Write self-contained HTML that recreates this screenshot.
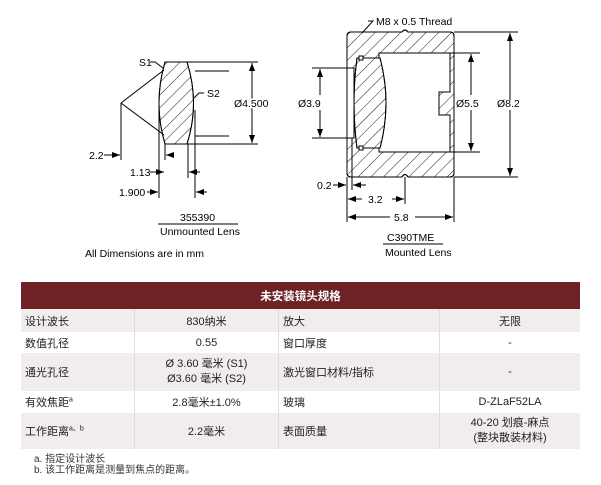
<!DOCTYPE html>
<html><head><meta charset="utf-8"><style>
body{margin:0;background:#fff;width:601px;height:485px;overflow:hidden;position:relative;font-family:"Liberation Sans","Noto Sans CJK SC",sans-serif}
svg{position:absolute;left:0;top:0}
table{position:absolute;left:21px;top:282px;width:559px;border-collapse:collapse;font-size:11px;color:#222}
td{padding:0 4px;border-left:1px solid #ddd}
td:first-child{border-left:none}
th{background:#6e2226;color:#fff;height:25px;font-size:11.5px;font-weight:bold}
tr.a td{background:#f2eded}
.c{text-align:center}
.fn{position:absolute;left:34px;top:454px;font-size:10px;line-height:11px;color:#333}
</style></head><body>
<svg width="601" height="280" viewBox="0 0 601 280" font-family="Liberation Sans, sans-serif" font-size="10.5">
<defs>
<pattern id="h" width="9" height="9" patternUnits="userSpaceOnUse" patternTransform="rotate(45)"><line x1="0" y1="0" x2="0" y2="9" stroke="#000" stroke-width="0.9"/></pattern>
<marker id="ar" markerWidth="8" markerHeight="6" refX="8" refY="3" orient="auto" markerUnits="userSpaceOnUse"><path d="M0,0L8,3L0,6z"/></marker>
</defs>
<g stroke="#000" stroke-width="1" fill="none">
<path d="M165,62 L187,62 Q200,103 187,144 L165,144 Q153,103 165,62Z" fill="url(#h)"/>
<path d="M165,62 L187,62 Q200,103 187,144 L165,144 Q153,103 165,62Z"/>
<line x1="187" y1="62" x2="258" y2="62"/><line x1="187" y1="144" x2="258" y2="144"/>
<line x1="195" y1="71" x2="229" y2="71"/><line x1="195" y1="136" x2="229" y2="136"/>
<line x1="121" y1="103" x2="164" y2="70"/><line x1="121" y1="103" x2="164" y2="135"/>
<line x1="252" y1="103" x2="252" y2="63" marker-end="url(#ar)"/><line x1="252" y1="103" x2="252" y2="143" marker-end="url(#ar)"/>
<line x1="121" y1="103" x2="121" y2="160"/>
<line x1="159" y1="110" x2="159" y2="198"/>
<line x1="165" y1="144" x2="165" y2="160"/>
<line x1="188" y1="144" x2="188" y2="178"/>
<line x1="195" y1="110" x2="195" y2="198"/>
<line x1="104" y1="155" x2="120" y2="155" marker-end="url(#ar)"/>
<line x1="174" y1="155" x2="166" y2="155" marker-end="url(#ar)"/>
<line x1="150" y1="172" x2="164" y2="172" marker-end="url(#ar)"/>
<line x1="200" y1="172" x2="189" y2="172" marker-end="url(#ar)"/>
<line x1="147" y1="192" x2="158" y2="192" marker-end="url(#ar)"/>
<line x1="207" y1="192" x2="196" y2="192" marker-end="url(#ar)"/>
<path d="M150,62 L155,62 L163,68"/>
<path d="M204,93 L199,93 L194,98"/>
<line x1="158" y1="224" x2="238" y2="224"/>
<path d="M351,32 L402,32 Q405,28 408,32 L450,32 Q454,32 454,36 L454,173 Q454,177 450,177 L408,177 Q405,172 402,177 L351,177 Q347,177 347,173 L347,36 Q347,32 351,32Z" fill="url(#h)"/>
<path d="M351,32 L402,32 Q405,28 408,32 L450,32 Q454,32 454,36 L454,173 Q454,177 450,177 L408,177 Q405,172 402,177 L351,177 Q347,177 347,173 L347,36 Q347,32 351,32Z"/>
<path d="M379,53 L450,53 L450,92 L439,92 L439,115 L450,115 L450,152 L379,152Z" fill="#fff"/>
<rect x="347" y="68" width="7" height="70" fill="#fff"/>
<path d="M357,58 L380,58 Q392,103 380,148 L357,148 Q351,103 357,58Z" fill="#fff"/>
<path d="M357,58 L380,58 Q392,103 380,148 L357,148 Q351,103 357,58Z" fill="url(#h)"/>
<rect x="359" y="56" width="4" height="4" fill="#fff"/><rect x="359" y="146" width="4" height="4" fill="#fff"/>
<line x1="454" y1="32" x2="518" y2="32"/><line x1="454" y1="177" x2="518" y2="177"/>
<line x1="450" y1="53" x2="480" y2="53"/><line x1="450" y1="152" x2="480" y2="152"/>
<line x1="312" y1="68" x2="347" y2="68"/><line x1="312" y1="138" x2="347" y2="138"/>
<line x1="510" y1="100" x2="510" y2="33" marker-end="url(#ar)"/><line x1="510" y1="110" x2="510" y2="176" marker-end="url(#ar)"/>
<line x1="471" y1="95" x2="471" y2="54" marker-end="url(#ar)"/><line x1="471" y1="110" x2="471" y2="151" marker-end="url(#ar)"/>
<line x1="320" y1="95" x2="320" y2="69" marker-end="url(#ar)"/><line x1="320" y1="110" x2="320" y2="137" marker-end="url(#ar)"/>
<line x1="347" y1="177" x2="347" y2="222"/><line x1="352" y1="138" x2="352" y2="190"/>
<line x1="405" y1="177" x2="405" y2="204"/><line x1="454" y1="177" x2="454" y2="222"/>
<line x1="333" y1="185" x2="346" y2="185" marker-end="url(#ar)"/>
<line x1="366" y1="185" x2="353" y2="185" marker-end="url(#ar)"/>
<line x1="362" y1="199" x2="348" y2="199" marker-end="url(#ar)"/>
<line x1="392" y1="199" x2="404" y2="199" marker-end="url(#ar)"/>
<line x1="390" y1="217" x2="348" y2="217" marker-end="url(#ar)"/>
<line x1="415" y1="217" x2="453" y2="217" marker-end="url(#ar)"/>
<path d="M368,21 L373,21 L362,33"/>
<line x1="383" y1="244" x2="443" y2="244"/>
</g>
<g fill="#000">
<text x="139" y="66">S1</text><text x="207" y="97">S2</text>
<text x="234" y="107" fill="#000" stroke="#fff" stroke-width="3" paint-order="stroke">Ø4.500</text>
<text x="89" y="159">2.2</text><text x="130" y="176">1.13</text><text x="119" y="196">1.900</text>
<text x="180" y="221">355390</text><text x="160" y="235">Unmounted Lens</text>
<text x="85" y="257">All Dimensions are in mm</text>
<text x="376" y="25">M8 x 0.5 Thread</text>
<text x="298" y="107">Ø3.9</text><text x="456" y="107">Ø5.5</text><text x="497" y="107">Ø8.2</text>
<text x="317" y="189">0.2</text><text x="368" y="203">3.2</text><text x="394" y="221">5.8</text>
<text x="387" y="241">C390TME</text><text x="385" y="256">Mounted Lens</text>
</g>
</svg>
<table>
<tr><th colspan="4">未安装镜头规格</th></tr>
<tr class="a" style="height:23px"><td style="width:105px">设计波长</td><td class="c" style="width:135px">830纳米</td><td style="width:152px">放大</td><td class="c">无限</td></tr>
<tr style="height:21px"><td>数值孔径</td><td class="c">0.55</td><td>窗口厚度</td><td class="c">-</td></tr>
<tr class="a" style="height:38px"><td>通光孔径</td><td class="c" style="line-height:15px">Ø 3.60 毫米 (S1)<br>Ø3.60 毫米 (S2)</td><td>激光窗口材料/指标</td><td class="c">-</td></tr>
<tr style="height:22px"><td>有效焦距<sup style="font-size:7px">a</sup></td><td class="c">2.8毫米±1.0%</td><td>玻璃</td><td class="c">D-ZLaF52LA</td></tr>
<tr class="a" style="height:36px"><td>工作距离<sup style="font-size:7px">a、b</sup></td><td class="c">2.2毫米</td><td>表面质量</td><td class="c" style="line-height:15px">40-20 划痕-麻点<br>(整块散装材料)</td></tr>
</table>
<div class="fn">a. 指定设计波长<br>b. 该工作距离是测量到焦点的距离。</div>
</body></html>
